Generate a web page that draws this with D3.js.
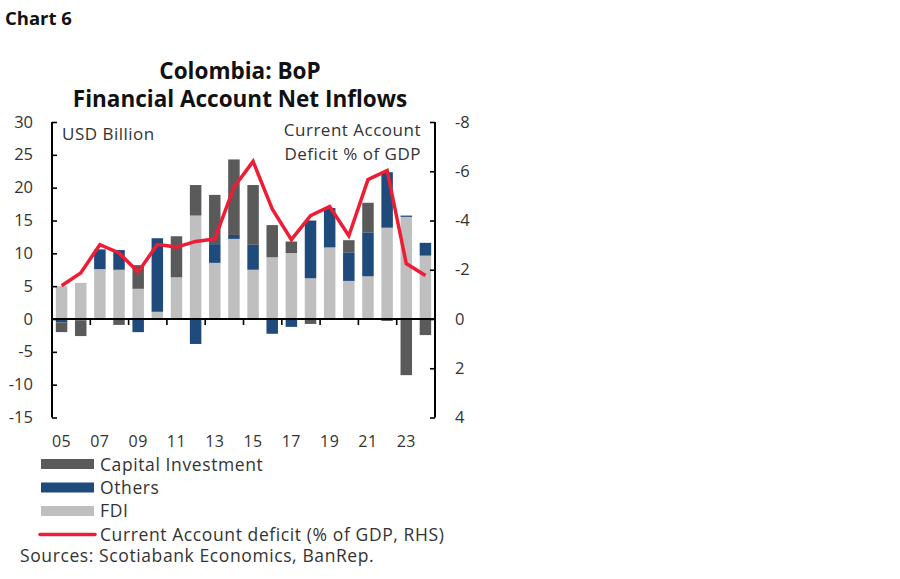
<!DOCTYPE html>
<html>
<head>
<meta charset="utf-8">
<script src="https://cdn.jsdelivr.net/npm/d3@7"></script>
<style>
  body { margin: 0; background: #fff; }
  text { font-family: "Open Sans", Lato, sans-serif; }
</style>
</head>
<body>
<svg id="chart" width="900" height="579"></svg>
<script>
// Data (USD bn, current account % of GDP).

const years = d3.range(2005, 2025);
const fdi     = [5.0, 5.5, 7.6, 7.5, 4.6, 1.1, 6.35, 15.75, 8.55, 12.2, 7.5, 9.4, 10.05, 6.2, 10.9, 5.8, 6.5, 13.9, 15.55, 9.65];
const others  = [-0.5, -0.2, 3.0, 3.0, -2.0, 11.2, 0, -3.8, 2.85, 0.6, 3.8, -2.25, -1.2, 8.8, 6.0, 4.35, 6.7, 8.45, 0.2, 1.95];
const capital = [-1.5, -2.4, 0, -0.9, 3.6, 0, 6.25, 4.65, 7.5, 11.5, 9.1, 4.9, 1.75, -0.75, 0, 1.85, 4.5, -0.3, -8.55, -2.45];
const caDeficit = [-1.35, -1.87, -3.02, -2.68, -1.91, -3.03, -2.92, -3.15, -3.25, -5.35, -6.4, -4.47, -3.22, -4.2, -4.57, -3.38, -5.66, -6.03, -2.25, -1.77];

const leftTicks = [30, 25, 20, 15, 10, 5, 0, -5, -10, -15];
const rightTicks = [-8, -6, -4, -2, 0, 2, 4];
const xLabelYears = [2005, 2007, 2009, 2011, 2013, 2015, 2017, 2019, 2021, 2023];

const seriesKeys = ["FDI", "Others", "Capital Investment"];
const colors = {
    "FDI": "#bfbfbf",
    "Others": "#1f4a7c",
    "Capital Investment": "#5a5a5a",
};
const lineColor = "#ee1d36";

const svg = d3.select("#chart");

// Plot frame.
const L = 52, R = 435, T = 122, B = 417.5;

const x = d3.scaleBand()
    .domain(years)
    .range([L, R])
    .paddingInner(0.4)
    .paddingOuter(0.2);

const yL = d3.scaleLinear().domain([-15, 30]).range([B, T]);
const yR = d3.scaleLinear().domain([4, -8]).range([B, T]);

// Stacked bars.
const table = years.map((yr, i) => ({
    year: yr,
    "FDI": fdi[i],
    "Others": others[i],
    "Capital Investment": capital[i],
}));

const stacked = d3.stack()
    .keys(seriesKeys)
    .offset(d3.stackOffsetDiverging)(table);

svg.append("g")
    .selectAll("g")
    .data(stacked)
    .join("g")
        .attr("fill", d => colors[d.key])
    .selectAll("rect")
    .data(d => d)
    .join("rect")
        .attr("x", d => x(d.data.year))
        .attr("width", x.bandwidth())
        .attr("y", d => yL(Math.max(d[0], d[1])))
        .attr("height", d => Math.abs(yL(d[0]) - yL(d[1])));

// Zero line with x ticks.
svg.append("line")
    .attr("x1", L).attr("x2", R)
    .attr("y1", yL(0)).attr("y2", yL(0))
    .attr("stroke", "#000")
    .attr("stroke-width", 2);

svg.append("g")
    .selectAll("line")
    .data(xLabelYears.slice(1))
    .join("line")
        .attr("x1", d => x(d) - x.step() * x.paddingInner() / 2)
        .attr("x2", d => x(d) - x.step() * x.paddingInner() / 2)
        .attr("y1", yL(0))
        .attr("y2", yL(0) + 6)
        .attr("stroke", "#000")
        .attr("stroke-width", 1.6);

svg.append("g")
    .selectAll("text")
    .data(xLabelYears)
    .join("text")
        .attr("x", d => x(d) + x.bandwidth() / 2)
        .attr("y", 447)
        .attr("text-anchor", "middle")
        .attr("font-size", 16)
        .attr("letter-spacing", 0.5)
        .attr("fill", "#333")
        .text(d => String(d).slice(2));

// Left axis.
const leftAxis = d3.axisRight(yL)
    .tickValues(leftTicks)
    .tickSize(5)
    .tickFormat("");

const gL = svg.append("g")
    .attr("transform", `translate(${L}, 0)`)
    .call(leftAxis);
gL.select(".domain").remove();
gL.selectAll(".tick line").attr("stroke", "#000").attr("stroke-width", 1.6);
gL.append("line")
    .attr("y1", T).attr("y2", B)
    .attr("stroke", "#000").attr("stroke-width", 2);

svg.append("g")
    .selectAll("text")
    .data(leftTicks)
    .join("text")
        .attr("x", 33)
        .attr("y", d => yL(d) + 5.5)
        .attr("text-anchor", "end")
        .attr("font-size", 16.5)
        .attr("fill", "#333")
        .text(d => d);

// Right axis.
const rightAxis = d3.axisLeft(yR)
    .tickValues(rightTicks)
    .tickSize(5)
    .tickFormat("");

const gR = svg.append("g")
    .attr("transform", `translate(${R}, 0)`)
    .call(rightAxis);
gR.select(".domain").remove();
gR.selectAll(".tick line").attr("stroke", "#000").attr("stroke-width", 1.6);
gR.append("line")
    .attr("y1", T).attr("y2", B)
    .attr("stroke", "#000").attr("stroke-width", 2);

svg.append("g")
    .selectAll("text")
    .data(rightTicks)
    .join("text")
        .attr("x", 455)
        .attr("y", d => yR(d) + 5.5)
        .attr("text-anchor", "start")
        .attr("font-size", 16.5)
        .attr("fill", "#333")
        .text(d => d);

// Current account line.
const line = d3.line()
    .x((d, i) => x(years[i]) + x.bandwidth() / 2)
    .y(d => yR(d));

svg.append("path")
    .datum(caDeficit)
    .attr("d", line)
    .attr("fill", "none")
    .attr("stroke", lineColor)
    .attr("stroke-width", 3.5)
    .attr("stroke-linejoin", "miter");

// Titles and in-plot labels.
svg.append("text")
    .attr("x", 5).attr("y", 25)
    .attr("font-size", 18.5).attr("font-weight", "bold")
    .attr("fill", "#111")
    .text("Chart 6");

svg.append("text")
    .attr("x", 240).attr("y", 79)
    .attr("text-anchor", "middle")
    .attr("font-size", 22.5).attr("font-weight", "bold")
    .attr("fill", "#111")
    .text("Colombia: BoP");

svg.append("text")
    .attr("x", 240).attr("y", 107)
    .attr("text-anchor", "middle")
    .attr("font-size", 22.5).attr("font-weight", "bold")
    .attr("fill", "#111")
    .text("Financial Account Net Inflows");

svg.append("text")
    .attr("x", 62).attr("y", 140)
    .attr("font-size", 17).attr("letter-spacing", 0.5).attr("fill", "#333")
    .text("USD Billion");

svg.append("text")
    .attr("x", 421).attr("y", 136)
    .attr("text-anchor", "end")
    .attr("font-size", 17).attr("letter-spacing", 0.5).attr("fill", "#333")
    .text("Current Account");

svg.append("text")
    .attr("x", 421).attr("y", 160)
    .attr("text-anchor", "end")
    .attr("font-size", 17).attr("letter-spacing", 0.5).attr("fill", "#333")
    .text("Deficit % of GDP");

// Legend.
const legendItems = [
    { label: "Capital Investment", key: "Capital Investment", y: 464 },
    { label: "Others", key: "Others", y: 487.5 },
    { label: "FDI", key: "FDI", y: 511 },
];

const leg = svg.append("g");

leg.selectAll("rect")
    .data(legendItems)
    .join("rect")
        .attr("x", 41).attr("width", 53)
        .attr("y", d => d.y - 5).attr("height", 10)
        .attr("fill", d => colors[d.key]);

leg.append("line")
    .attr("x1", 40).attr("x2", 95)
    .attr("y1", 534.5).attr("y2", 534.5)
    .attr("stroke", lineColor)
    .attr("stroke-width", 3.5)
    .attr("stroke-linecap", "round");

leg.selectAll("text")
    .data(legendItems.map(d => d.label).concat(["Current Account deficit (% of GDP, RHS)"]))
    .join("text")
        .attr("x", 100)
        .attr("y", (d, i) => [464.5, 487.5, 511, 534.5][i] + 6)
        .attr("font-size", 17.5)
        .attr("letter-spacing", 0.6)
        .attr("fill", "#333")
        .text(d => d);

svg.append("text")
    .attr("x", 20).attr("y", 562)
    .attr("font-size", 17.5).attr("letter-spacing", 0.6).attr("fill", "#333")
    .text("Sources: Scotiabank Economics, BanRep.");
</script>
</body>
</html>
